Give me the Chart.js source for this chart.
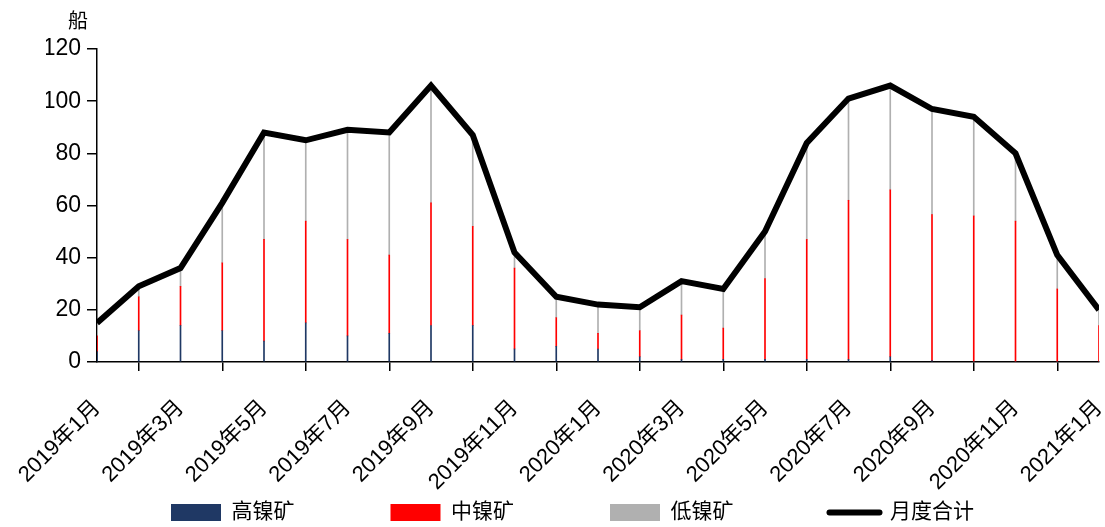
<!DOCTYPE html>
<html>
<head>
<meta charset="utf-8">
<script src="https://cdn.jsdelivr.net/npm/chart.js@4"></script>
<style>
  body { margin: 0; background: #fff; }
  #wrap { width: 1105px; height: 527px; }
</style>
</head>
<body>
<div id="wrap"><canvas id="nickelChart" width="1105" height="527"></canvas></div>
<script>
const months = ['2019年1月', '2019年2月', '2019年3月', '2019年4月', '2019年5月', '2019年6月', '2019年7月', '2019年8月', '2019年9月', '2019年10月', '2019年11月', '2019年12月',
    '2020年1月', '2020年2月', '2020年3月', '2020年4月', '2020年5月', '2020年6月', '2020年7月', '2020年8月', '2020年9月', '2020年10月', '2020年11月', '2020年12月', '2021年1月'];
const highOre = [4, 12, 14, 12, 8, 15, 10, 11, 14, 14, 5, 6, 5, 2, 1, 1, 1, 1, 1, 2, 0.5, 0, 0, 0, 0];
const midOre = [6, 13, 15, 26, 39, 39, 37, 30, 47, 38, 31, 11, 6, 10, 17, 12, 31, 46, 61, 64, 56, 56, 54, 28, 14];
const lowOre = [5, 4, 7, 23, 41, 31, 42, 47, 45, 35, 6, 8, 11, 9, 13, 15, 18, 37, 39, 40, 40.5, 38, 26, 13, 6];
const monthlyTotal = [15, 29, 36, 61, 88, 85, 89, 88, 106, 87, 42, 25, 22, 21, 31, 28, 50, 84, 101, 106, 97, 94, 80, 41, 20];
const yTicks = [0, 20, 40, 60, 80, 100, 120];
const unitLabel = '船';

const FONT = '"Liberation Sans", "Noto Sans CJK SC", sans-serif';
const toPoints = arr => arr.map((v, i) => ({ x: i, y: v }));

// small plugin for the unit text above the y axis
const unitPlugin = {
    id: 'unitLabel',
    afterDraw(chart) {
        const ctx = chart.ctx;
        ctx.save();
        ctx.font = '20px "Noto Sans CJK SC", sans-serif';
        ctx.fillStyle = '#000';
        ctx.textAlign = 'center';
        ctx.textBaseline = 'middle';
        ctx.fillText(unitLabel, 78, 20);
        ctx.restore();
    }
};

new Chart(document.getElementById('nickelChart'), {
    type: 'bar',
    data: {
        datasets: [
            { label: '高镍矿', data: toPoints(highOre), backgroundColor: '#1F3864', barThickness: 1, stack: 'ore' },
            { label: '中镍矿', data: toPoints(midOre), backgroundColor: '#FF0000', barThickness: 1, stack: 'ore' },
            { label: '低镍矿', data: toPoints(lowOre), backgroundColor: '#B0B0B0', barThickness: 1, stack: 'ore' },
            { type: 'line', label: '月度合计', data: toPoints(monthlyTotal), borderColor: '#000', borderWidth: 6,
              pointRadius: 0, tension: 0, order: -1, stack: 'total' }
        ]
    },
    options: {
        responsive: false,
        animation: false,
        layout: { padding: { top: 49, left: 46, right: 6, bottom: -6 } },
        plugins: {
            tooltip: { enabled: false },
            legend: {
                position: 'bottom',
                labels: {
                    usePointStyle: true,
                    pointStyleWidth: 50,
                    boxHeight: 17,
                    padding: 96,
                    color: '#000',
                    font: { family: FONT, size: 21 },
                    generateLabels: chart => chart.data.datasets.map((ds, i) => ({
                        text: ds.label,
                        datasetIndex: i,
                        fillStyle: ds.type === 'line' ? '#000' : ds.backgroundColor,
                        strokeStyle: '#000',
                        lineWidth: ds.type === 'line' ? 6 : 0,
                        lineCap: 'round',
                        pointStyle: ds.type === 'line' ? 'line' : 'rect',
                        fontColor: '#000',
                        hidden: false
                    }))
                }
            }
        },
        scales: {
            x: {
                type: 'linear',
                min: 0,
                max: 24,
                offset: false,
                stacked: true,
                afterFit: scale => {
                    // labels hang down over the legend area, so keep the box short and unclipped
                    scale.height = 44;
                    scale.paddingLeft = 0;
                    scale.paddingRight = 0;
                    scale._computeLabelArea = () => undefined;
                },
                border: { color: '#000', width: 1.5 },
                grid: { drawOnChartArea: false, drawTicks: true, tickLength: 9, color: '#000', lineWidth: 1.5 },
                ticks: {
                    stepSize: 2,
                    autoSkip: false,
                    minRotation: 45,
                    maxRotation: 45,
                    padding: 24,
                    color: '#000',
                    font: { family: FONT, size: 22 },
                    callback: v => months[v]
                }
            },
            y: {
                min: 0,
                max: 120,
                stacked: true,
                afterFit: scale => { scale.width = 51; },
                afterBuildTicks: scale => { scale.ticks = yTicks.map(v => ({ value: v })); },
                border: { color: '#000', width: 1.5 },
                grid: { drawOnChartArea: false, drawTicks: true, tickLength: 10, color: '#000', lineWidth: 1.5 },
                ticks: { padding: 6, color: '#000', font: { family: FONT, size: 23 } }
            }
        }
    },
    plugins: [unitPlugin]
});
</script>
</body>
</html>
